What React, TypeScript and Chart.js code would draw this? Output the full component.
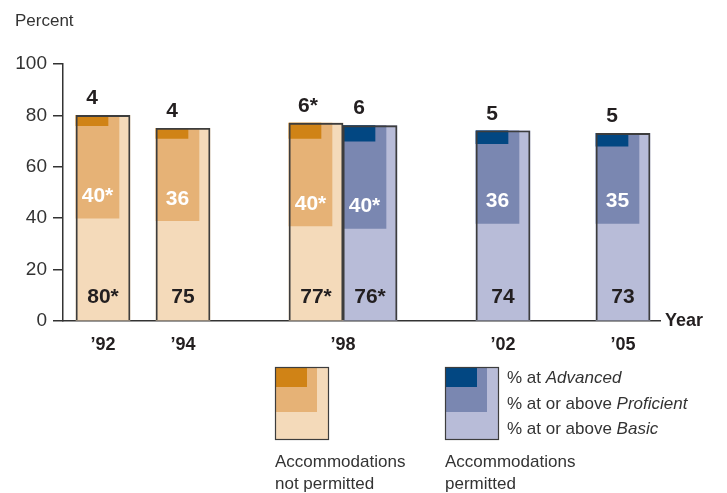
import React, { useEffect, useRef } from 'react';
import { Chart, registerables } from 'chart.js';

Chart.register(...registerables);

// ---- Data ----
const NP_YEARS = [1992, 1994, 1998];
const NP_BASIC = [80, 75, 77];
const NP_PROF = [40, 36, 40];
const NP_ADV = [4, 4, 6];
const NP_BASIC_SIG = [true, false, true];
const NP_PROF_SIG = [true, false, true];
const NP_ADV_SIG = [false, false, true];

const P_YEARS = [1998, 2002, 2005];
const P_BASIC = [76, 74, 73];
const P_PROF = [40, 36, 35];
const P_ADV = [6, 5, 5];
const P_BASIC_SIG = [true, false, false];
const P_PROF_SIG = [true, false, false];
const P_ADV_SIG = [false, false, false];

const TICK_YEARS = [1992, 1994, 1998, 2002, 2005];
const Y_MIN = 0;
const Y_MAX = 100;
const Y_STEP = 10;
const Y_LABEL_STEP = 20;

// ---- Layout / style ----
const W = 727;
const H = 493;
const PLOT_L = 63;
const PLOT_R = 660;
const PLOT_T = 64;
const PLOT_B = 321;
const X_MIN = 1991;
const X_MAX = 2005.925;
const X_AXIS_H = 50;
const BAR_W = 54;
const PROF_W = 43;
const ADV_W = 32;
const PPY = (PLOT_R - PLOT_L) / (X_MAX - X_MIN);

const ORANGE = { basic: '#F4DABA', prof: '#E6B276', adv: '#D08316' };
const BLUE = { basic: '#B8BCD8', prof: '#7A87B1', adv: '#024782' };
const OUTLINE = '#3d3d3d';
const TEXT = '#231f20';
const AXIS = '#333333';
const SANS = '"Liberation Sans", Arial, sans-serif';
const NARROW = '"Liberation Sans Narrow", "Liberation Sans", Arial, sans-serif';

const bothYears = NP_YEARS.filter((y) => P_YEARS.includes(y));
const centerOf = (year: number, isNP: boolean) =>
  bothYears.includes(year) ? year + (isNP ? -1 : 1) * (BAR_W / 2) / PPY : year;
const innerShift = (w: number) => (w - BAR_W) / 2 / PPY;

type Group = {
  years: number[];
  basic: number[];
  prof: number[];
  adv: number[];
  basicSig: boolean[];
  profSig: boolean[];
  advSig: boolean[];
  colors: { basic: string; prof: string; adv: string };
  isNP: boolean;
};

const GROUPS: Group[] = [
  { years: NP_YEARS, basic: NP_BASIC, prof: NP_PROF, adv: NP_ADV, basicSig: NP_BASIC_SIG, profSig: NP_PROF_SIG, advSig: NP_ADV_SIG, colors: ORANGE, isNP: true },
  { years: P_YEARS, basic: P_BASIC, prof: P_PROF, adv: P_ADV, basicSig: P_BASIC_SIG, profSig: P_PROF_SIG, advSig: P_ADV_SIG, colors: BLUE, isNP: false },
];

function buildDatasets() {
  const ds: any[] = [];
  GROUPS.forEach((g) => {
    const c = (i: number) => centerOf(g.years[i], g.isNP);
    ds.push({
      label: 'outline',
      data: g.years.map((_, i) => ({ x: c(i), y: g.basic[i] })),
      backgroundColor: 'rgba(0,0,0,0)',
      borderColor: OUTLINE,
      borderWidth: 1.2,
      borderSkipped: 'start',
      barThickness: BAR_W,
      grouped: false,
      order: 0,
    });
    ds.push({
      label: 'advanced',
      data: g.years.map((_, i) => ({ x: c(i) + innerShift(ADV_W), y: [g.basic[i] - g.adv[i], g.basic[i]] })),
      backgroundColor: g.colors.adv,
      borderWidth: 0,
      barThickness: ADV_W,
      grouped: false,
      order: 1,
    });
    ds.push({
      label: 'proficient',
      data: g.years.map((_, i) => ({ x: c(i) + innerShift(PROF_W), y: [g.basic[i] - g.prof[i], g.basic[i]] })),
      backgroundColor: g.colors.prof,
      borderWidth: 0,
      barThickness: PROF_W,
      grouped: false,
      order: 2,
    });
    ds.push({
      label: 'basic',
      data: g.years.map((_, i) => ({ x: c(i), y: g.basic[i] })),
      backgroundColor: g.colors.basic,
      borderWidth: 0,
      barThickness: BAR_W,
      grouped: false,
      order: 3,
    });
  });
  return ds;
}

const star = (v: number, s: boolean) => `${v}${s ? '*' : ''}`;

const labelPlugin = {
  id: 'labels',
  afterDatasetsDraw(chart: any) {
    const ctx = chart.ctx;
    const xs = chart.scales.x;
    const ys = chart.scales.y;
    ctx.save();
    ctx.font = `bold 21px ${SANS}`;
    ctx.textAlign = 'center';
    ctx.textBaseline = 'middle';
    GROUPS.forEach((g) => {
      g.years.forEach((yr, i) => {
        const cx = xs.getPixelForValue(centerOf(yr, g.isNP));
        const left = cx - BAR_W / 2;
        const top = ys.getPixelForValue(g.basic[i]);
        const profBottom = ys.getPixelForValue(g.basic[i] - g.prof[i]);
        const zero = ys.getPixelForValue(0);
        ctx.fillStyle = TEXT;
        ctx.fillText(star(g.adv[i], g.advSig[i]), left + ADV_W / 2 + (g.advSig[i] ? 3 : 0), top - 17);
        ctx.fillStyle = '#ffffff';
        ctx.fillText(star(g.prof[i], g.profSig[i]), left + PROF_W / 2, profBottom - 22);
        ctx.fillStyle = TEXT;
        ctx.fillText(star(g.basic[i], g.basicSig[i]), cx, zero - 24);
      });
    });
    ctx.restore();
  },
  afterDraw(chart: any) {
    const ctx = chart.ctx;
    ctx.save();
    ctx.textBaseline = 'middle';
    ctx.textAlign = 'left';
    ctx.fillStyle = AXIS;
    ctx.font = `17px ${SANS}`;
    ctx.fillText('Percent', 15, 21);
    ctx.fillStyle = TEXT;
    ctx.font = `bold 18px ${NARROW}`;
    ctx.fillText('Year', 665, 321);

    const sw = (x: number, colors: { basic: string; prof: string; adv: string }) => {
      const y = 367;
      ctx.fillStyle = colors.basic;
      ctx.fillRect(x, y, 54, 73);
      ctx.fillStyle = colors.prof;
      ctx.fillRect(x, y, 42, 45);
      ctx.fillStyle = colors.adv;
      ctx.fillRect(x, y, 32, 20);
      ctx.strokeStyle = OUTLINE;
      ctx.lineWidth = 1.2;
      ctx.strokeRect(x + 0.5, y + 0.5, 53, 72);
    };
    sw(275, ORANGE);
    sw(445, BLUE);

    ctx.fillStyle = AXIS;
    const mixed = (x: number, y: number, plain: string, ital: string) => {
      ctx.font = `17px ${SANS}`;
      ctx.fillText(plain, x, y);
      const w = ctx.measureText(plain).width;
      ctx.font = `italic 17px ${SANS}`;
      ctx.fillText(ital, x + w, y);
    };
    mixed(507, 378, '% at ', 'Advanced');
    mixed(507, 404, '% at or above ', 'Proficient');
    mixed(507, 429, '% at or above ', 'Basic');

    ctx.font = `17px ${SANS}`;
    ctx.fillText('Accommodations', 275, 462);
    ctx.fillText('not permitted', 275, 484);
    ctx.fillText('Accommodations', 445, 462);
    ctx.fillText('permitted', 445, 484);
    ctx.restore();
  },
};

export default function App() {
  const ref = useRef<HTMLCanvasElement | null>(null);
  useEffect(() => {
    if (!ref.current) return;
    const chart = new Chart(ref.current, {
      type: 'bar',
      data: { datasets: buildDatasets() },
      options: {
        responsive: false,
        animation: false,
        layout: { padding: { left: 0, top: PLOT_T, right: W - PLOT_R, bottom: H - PLOT_B - X_AXIS_H } },
        plugins: { legend: { display: false }, tooltip: { enabled: false } },
        scales: {
          x: {
            type: 'linear',
            min: X_MIN,
            max: X_MAX,
            offset: false,
            afterBuildTicks: (scale: any) => {
              scale.ticks = TICK_YEARS.map((v) => ({ value: v }));
            },
            afterFit: (scale: any) => {
              scale.height = X_AXIS_H;
            },
            ticks: {
              autoSkip: false,
              maxRotation: 0,
              padding: 13,
              color: TEXT,
              font: { family: NARROW, size: 18, weight: 'bold' },
              callback: (v: any) => '\u2019' + String(v).slice(2),
            },
            grid: { display: true, drawOnChartArea: false, drawTicks: false, color: 'rgba(0,0,0,0)' },
            border: { display: true, color: AXIS, width: 1.5 },
          },
          y: {
            min: Y_MIN,
            max: Y_MAX,
            afterFit: (scale: any) => {
              scale.width = PLOT_L;
            },
            ticks: {
              stepSize: Y_STEP,
              padding: 6,
              color: AXIS,
              font: { family: SANS, size: 19 },
              callback: (v: any) => (Number(v) % Y_LABEL_STEP === 0 ? String(v) : ''),
            },
            grid: { drawOnChartArea: false, drawTicks: true, tickLength: 10, color: AXIS, lineWidth: 1.5 },
            border: { display: true, color: AXIS, width: 1.5 },
          },
        },
      },
      plugins: [labelPlugin],
    } as any);
    return () => chart.destroy();
  }, []);
  return (
    <div style={{ position: 'absolute', left: 0, top: 0, width: W, height: H, background: '#fff' }}>
      <canvas ref={ref} width={W} height={H} style={{ display: 'block' }} />
    </div>
  );
}
